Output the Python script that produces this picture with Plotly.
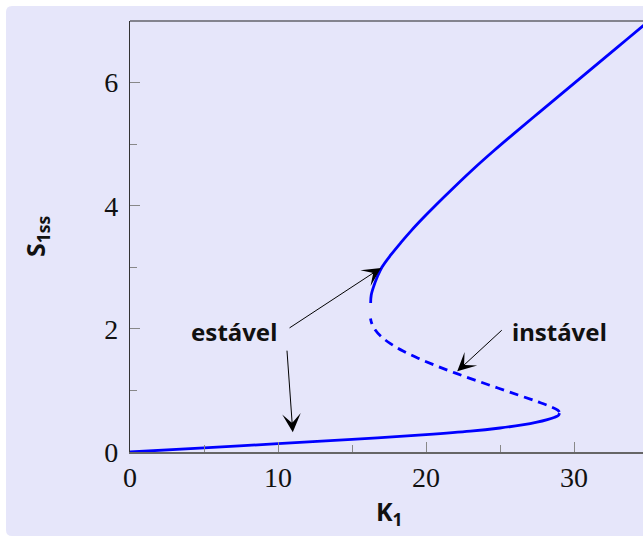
import plotly.graph_objects as go

# Steady-state branches of S1 against K1
K_stable_low = [0, 5, 10, 15, 20, 23, 25, 26.5, 27.5, 28.2, 28.7, 28.95, 29.02]
S_stable_low = [0, 0.068, 0.135, 0.205, 0.282, 0.338, 0.39, 0.44, 0.485, 0.527, 0.565, 0.595, 0.63]

K_unstable = [29.02, 28.9, 28.4, 27.5, 26.3, 24.85, 23.4, 22.0, 20.7, 19.5, 18.45, 17.6, 16.95, 16.52, 16.32, 16.25]
S_unstable = [0.65, 0.68, 0.74, 0.82, 0.92, 1.04, 1.16, 1.28, 1.40, 1.52, 1.64, 1.76, 1.88, 2.00, 2.10, 2.17]

K_stable_high = [16.26, 16.30, 16.48, 16.72, 17.02, 17.62, 18.30, 19.02, 19.80, 20.62, 21.90,
                 23.22, 24.62, 26.08, 27.57, 29.07, 30.57, 32.07, 33.56, 35.05]
S_stable_high = [2.42, 2.55, 2.70, 2.85, 3.00, 3.20, 3.40, 3.60, 3.80, 4.00, 4.30,
                 4.60, 4.90, 5.20, 5.50, 5.80, 6.10, 6.40, 6.70, 7.00]

x_ticks = [0, 10, 20, 30]
y_ticks = [0, 2, 4, 6]

BLUE = "#0000FF"
CARD = "#E6E6FA"
SERIF = "Liberation Serif, DejaVu Serif, serif"
SANS = "Noto Sans, Open Sans, sans-serif"

fig = go.Figure()
fig.add_trace(go.Scatter(x=K_stable_low, y=S_stable_low, mode="lines",
                         line=dict(color=BLUE, width=2.8, shape="spline")))
fig.add_trace(go.Scatter(x=K_unstable, y=S_unstable, mode="lines",
                         line=dict(color=BLUE, width=2.8, shape="spline", dash="9px,6px")))
fig.add_trace(go.Scatter(x=K_stable_high, y=S_stable_high, mode="lines",
                         line=dict(color=BLUE, width=2.8, shape="spline")))

W, H = 643, 542
L, R, T, B = 130, 0, 21, 90
pw, ph = W - L - R, H - T - B


def px_to_paper(px, py):
    return (px - L) / pw, (H - B - py) / ph


# rounded lavender card behind the chart
cx0, cy_top = px_to_paper(6, 6)
cx1, cy_bot = px_to_paper(660, 536)
rx, ry = 6 / pw, 6 / ph
card_path = (f"M{cx0+rx},{cy_top} L{cx1},{cy_top} L{cx1},{cy_bot} L{cx0+rx},{cy_bot} "
             f"Q{cx0},{cy_bot} {cx0},{cy_bot+ry} L{cx0},{cy_top-ry} Q{cx0},{cy_top} {cx0+rx},{cy_top} Z")
fig.add_shape(type="path", path=card_path, xref="paper", yref="paper",
              fillcolor=CARD, line=dict(width=0), layer="below")
# frame line along the top
fig.add_shape(type="line", xref="paper", yref="paper", x0=0, x1=1, y0=1, y1=1,
              line=dict(color="#222", width=1.2))

annotations = []
# axis titles
tx, ty = px_to_paper(389.5, 512)
annotations.append(dict(x=tx, y=ty, xref="paper", yref="paper", text="K<sub>1</sub>",
                        showarrow=False, font=dict(family=SANS, size=25, color="#111", weight="bold"),
                        xanchor="center", yanchor="middle"))
tx, ty = px_to_paper(36, 236)
annotations.append(dict(x=tx, y=ty, xref="paper", yref="paper", text="S<sub>1ss</sub>",
                        showarrow=False, textangle=-90,
                        font=dict(family=SANS, size=25, color="#111", weight="bold"),
                        xanchor="center", yanchor="middle"))
# branch labels
annotations.append(dict(x=7.03, y=1.95, xref="x", yref="y", text="estável", showarrow=False,
                        font=dict(family=SANS, size=24, color="#111", weight="bold"),
                        xanchor="center", yanchor="middle"))
annotations.append(dict(x=29.0, y=1.95, xref="x", yref="y", text="instável", showarrow=False,
                        font=dict(family=SANS, size=24, color="#111", weight="bold"),
                        xanchor="center", yanchor="middle"))
# arrows: (tail_x, tail_y, tip_x, tip_y)
arrows = [(10.68, 2.0, 16.96, 2.99), (10.6, 1.67, 11.0, 0.32), (25.22, 2.0, 22.11, 1.31)]
for ax_, ay_, x_, y_ in arrows:
    annotations.append(dict(x=x_, y=y_, ax=ax_, ay=ay_, xref="x", yref="y", axref="x", ayref="y",
                            text="", showarrow=True, arrowhead=3, arrowsize=3.1, arrowwidth=1,
                            arrowcolor="black", standoff=0, startstandoff=0))

fig.update_layout(
    width=W, height=H,
    margin=dict(l=L, r=R, t=T, b=B, pad=0),
    paper_bgcolor="white",
    plot_bgcolor=CARD,
    showlegend=False,
    annotations=annotations,
)
fig.update_xaxes(range=[0, pw / 14.8], tickvals=x_ticks, ticktext=[str(v) for v in x_ticks],
                 showgrid=False, zeroline=False, showline=True, linecolor="#666", linewidth=1.5,
                 ticks="inside", ticklen=10, tickwidth=1, tickcolor="#888",
                 minor=dict(ticks="inside", ticklen=7, tickwidth=1, tickcolor="#888", dtick=5, tick0=0),
                 tickfont=dict(family=SERIF, size=28, color="#111"))
fig.update_yaxes(range=[0, 7.0], tickvals=y_ticks, ticktext=[str(v) for v in y_ticks],
                 showgrid=False, zeroline=False, showline=True, linecolor="#333", linewidth=1.2,
                 ticks="inside", ticklen=10, tickwidth=1, tickcolor="#888",
                 minor=dict(ticks="inside", ticklen=7, tickwidth=1, tickcolor="#888", dtick=1, tick0=0),
                 ticklabelstandoff=5,
                 tickfont=dict(family=SERIF, size=28, color="#111"))

fig.write_html("out.html")
